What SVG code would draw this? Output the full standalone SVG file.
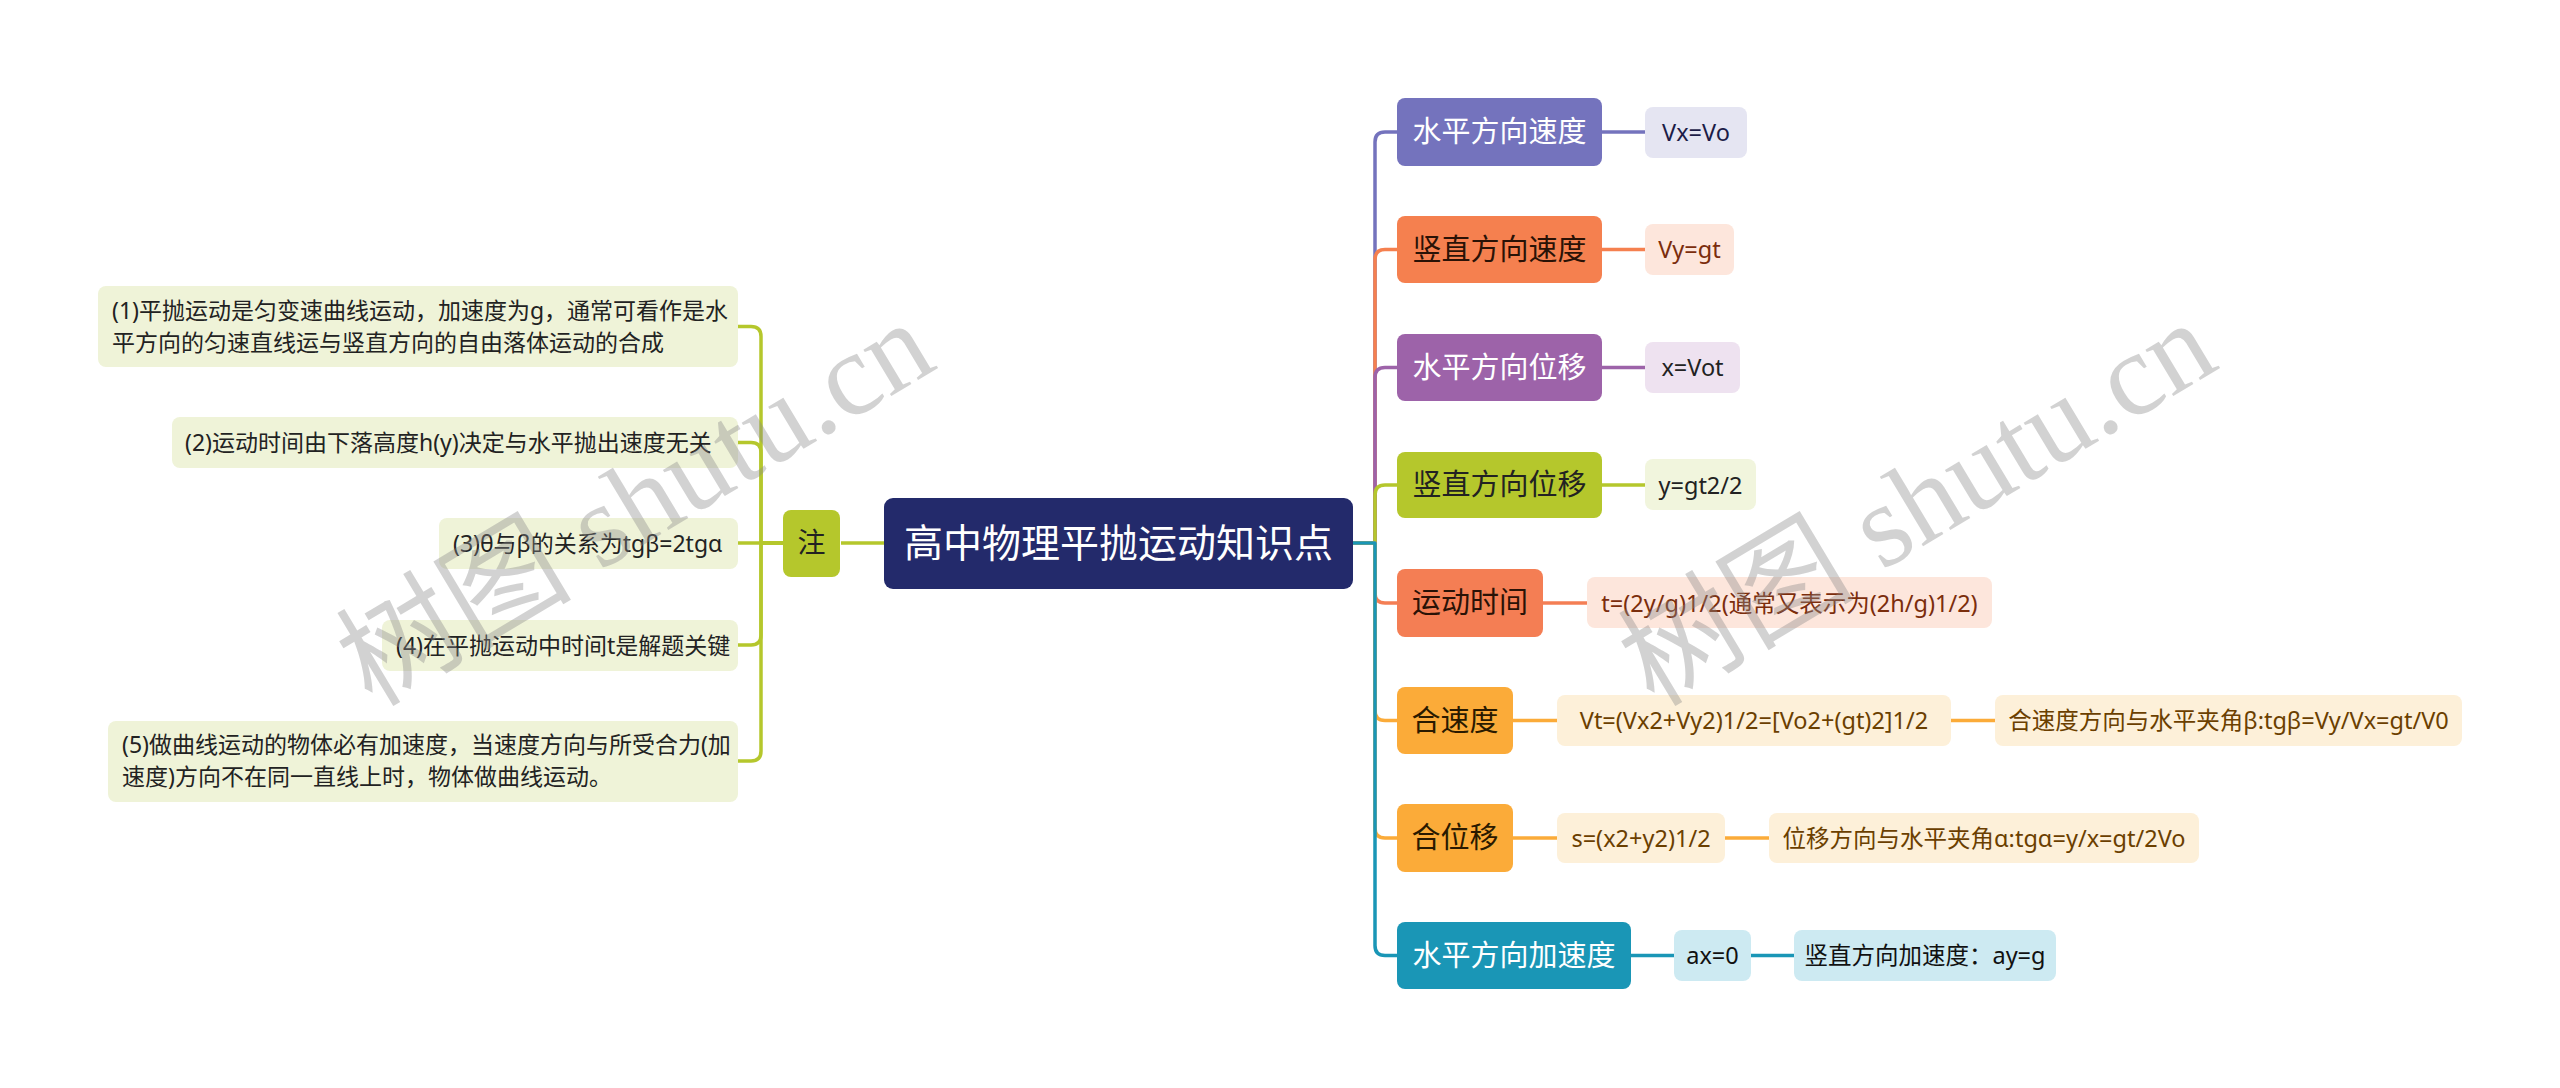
<svg xmlns="http://www.w3.org/2000/svg" width="2560" height="1088" viewBox="0 0 2560 1088">
<style>
text{font-family:"Noto Sans","Noto Sans CJK SC",sans-serif;}
.c{fill:none;stroke-width:3.5;stroke-linejoin:round;stroke-linecap:butt;}
.l1{font-size:29px;text-anchor:middle;}
.l2{font-size:23.5px;text-anchor:middle;}
.nt{font-size:23px;fill:#222;}
.wm{font-family:"Liberation Serif","Noto Sans CJK SC",serif;font-size:118px;fill:#888;fill-opacity:0.38;}
</style>
<rect width="2560" height="1088" fill="#ffffff"/>
<g id="connectors">
<path class="c" stroke="#b5c72c" d="M884,543 H841"/>
<path class="c" stroke="#b5c72c" d="M784,543 H761 V336.5 Q761,326.5 751,326.5 H738"/>
<path class="c" stroke="#b5c72c" d="M784,543 H761 V452.5 Q761,442.5 751,442.5 H738"/>
<path class="c" stroke="#b5c72c" d="M784,543 H738"/>
<path class="c" stroke="#b5c72c" d="M784,543 H761 V635 Q761,645 751,645 H738"/>
<path class="c" stroke="#b5c72c" d="M784,543 H761 V751 Q761,761 751,761 H738"/>
<path class="c" stroke="#7473bd" d="M1353,543 H1375 V142 Q1375,132 1385,132 H1397"/>
<path class="c" stroke="#f5804f" d="M1353,543 H1375 V259.5 Q1375,249.5 1385,249.5 H1397"/>
<path class="c" stroke="#9d63a9" d="M1353,543 H1375 V377.5 Q1375,367.5 1385,367.5 H1397"/>
<path class="c" stroke="#b5c72c" d="M1353,543 H1375 V495 Q1375,485 1385,485 H1397"/>
<path class="c" stroke="#f47e54" d="M1353,543 H1375 V593 Q1375,603 1385,603 H1397"/>
<path class="c" stroke="#fbab39" d="M1353,543 H1375 V710.5 Q1375,720.5 1385,720.5 H1397"/>
<path class="c" stroke="#fbab39" d="M1353,543 H1375 V828 Q1375,838 1385,838 H1397"/>
<path class="c" stroke="#1a96b6" d="M1353,543 H1375 V945.5 Q1375,955.5 1385,955.5 H1397"/>
<path class="c" stroke="#7473bd" d="M1602,132 H1645"/>
<path class="c" stroke="#f5804f" d="M1602,249.5 H1645"/>
<path class="c" stroke="#9d63a9" d="M1602,367.5 H1645"/>
<path class="c" stroke="#b5c72c" d="M1602,485 H1645"/>
<path class="c" stroke="#f47e54" d="M1543,603 H1587"/>
<path class="c" stroke="#fbab39" d="M1513,720.5 H1557"/>
<path class="c" stroke="#fbab39" d="M1951,720.5 H1995"/>
<path class="c" stroke="#fbab39" d="M1513,838 H1557"/>
<path class="c" stroke="#fbab39" d="M1725,838 H1769"/>
<path class="c" stroke="#1a96b6" d="M1631,955.5 H1674"/>
<path class="c" stroke="#1a96b6" d="M1751,955.5 H1794"/>
</g>
<g id="root">
<rect x="884" y="498" width="469" height="91" rx="9" fill="#232a6b"/>
<text x="1118.5" y="557" font-size="39" fill="#ffffff" text-anchor="middle">高中物理平抛运动知识点</text>
</g>
<g id="zhu">
<rect x="783" y="510" width="57" height="67" rx="8" fill="#b5c72c"/>
<text x="811.5" y="553" font-size="28" fill="#222" text-anchor="middle">注</text>
</g>
<g id="note1">
<rect x="98" y="286" width="640" height="81" rx="8" fill="#eff3d8"/>
<text class="nt" x="112" y="318.5">(1)平抛运动是匀变速曲线运动，加速度为g，通常可看作是水</text>
<text class="nt" x="112" y="350.5">平方向的匀速直线运与竖直方向的自由落体运动的合成</text>
</g>
<g id="note2">
<rect x="172" y="417" width="566" height="51" rx="8" fill="#eff3d8"/>
<text class="nt" x="185" y="451">(2)运动时间由下落高度h(y)决定与水平抛出速度无关</text>
</g>
<g id="note3">
<rect x="439" y="518" width="299" height="51" rx="8" fill="#eff3d8"/>
<text class="nt" x="453" y="552">(3)θ与β的关系为tgβ=2tgα</text>
</g>
<g id="note4">
<rect x="382" y="620" width="356" height="51" rx="8" fill="#eff3d8"/>
<text class="nt" x="396" y="654">(4)在平抛运动中时间t是解题关键</text>
</g>
<g id="note5">
<rect x="108" y="721" width="630" height="81" rx="8" fill="#eff3d8"/>
<text class="nt" x="122" y="753">(5)做曲线运动的物体必有加速度，当速度方向与所受合力(加</text>
<text class="nt" x="122" y="785">速度)方向不在同一直线上时，物体做曲线运动。</text>
</g>
<g id="n1">
<rect x="1397" y="98" width="205" height="68" rx="8" fill="#7473bd"/>
<text class="l1" x="1499.5" y="142" fill="#ffffff">水平方向速度</text>
</g>
<g id="n1a">
<rect x="1645" y="107" width="102" height="51" rx="8" fill="#e5e5f2"/>
<text class="l2" x="1696" y="140.5" fill="#1c1c48">Vx=Vo</text>
</g>
<g id="n2">
<rect x="1397" y="216" width="205" height="67" rx="8" fill="#f5804f"/>
<text class="l1" x="1499.5" y="259.5" fill="#2a1206">竖直方向速度</text>
</g>
<g id="n2a">
<rect x="1645" y="224" width="89" height="51" rx="8" fill="#fde6dc"/>
<text class="l2" x="1689.5" y="258" fill="#7b2d0c">Vy=gt</text>
</g>
<g id="n3">
<rect x="1397" y="334" width="205" height="67" rx="8" fill="#9d63a9"/>
<text class="l1" x="1499.5" y="377.5" fill="#ffffff">水平方向位移</text>
</g>
<g id="n3a">
<rect x="1645" y="342" width="95" height="51" rx="8" fill="#eee2f0"/>
<text class="l2" x="1692.5" y="376" fill="#222">x=Vot</text>
</g>
<g id="n4">
<rect x="1397" y="452" width="205" height="66" rx="8" fill="#b5c72c"/>
<text class="l1" x="1499.5" y="495" fill="#222">竖直方向位移</text>
</g>
<g id="n4a">
<rect x="1645" y="459" width="111" height="51" rx="8" fill="#f1f5dd"/>
<text class="l2" x="1700.5" y="493.5" fill="#222">y=gt2/2</text>
</g>
<g id="n5">
<rect x="1397" y="569" width="146" height="68" rx="8" fill="#f47e54"/>
<text class="l1" x="1470" y="613" fill="#2a1206">运动时间</text>
</g>
<g id="n5a">
<rect x="1587" y="577" width="405" height="51" rx="8" fill="#fde6dc"/>
<text class="l2" x="1789.5" y="611.5" fill="#7b2d0c">t=(2y/g)1/2(通常又表示为(2h/g)1/2)</text>
</g>
<g id="n6">
<rect x="1397" y="687" width="116" height="67" rx="8" fill="#fbab39"/>
<text class="l1" x="1455" y="730.5" fill="#2a1a00">合速度</text>
</g>
<g id="n6a">
<rect x="1557" y="695" width="394" height="51" rx="8" fill="#fdf0d9"/>
<text class="l2" x="1754" y="729" fill="#6b3f00">Vt=(Vx2+Vy2)1/2=[Vo2+(gt)2]1/2</text>
</g>
<g id="n6b">
<rect x="1995" y="695" width="467" height="51" rx="8" fill="#fdf0d9"/>
<text class="l2" x="2228.5" y="729" fill="#6b3f00">合速度方向与水平夹角β:tgβ=Vy/Vx=gt/V0</text>
</g>
<g id="n7">
<rect x="1397" y="804" width="116" height="68" rx="8" fill="#fbab39"/>
<text class="l1" x="1455" y="848" fill="#2a1a00">合位移</text>
</g>
<g id="n7a">
<rect x="1557" y="813" width="168" height="50" rx="8" fill="#fdf0d9"/>
<text class="l2" x="1641" y="846.5" fill="#6b3f00">s=(x2+y2)1/2</text>
</g>
<g id="n7b">
<rect x="1769" y="813" width="430" height="50" rx="8" fill="#fdf0d9"/>
<text class="l2" x="1984" y="846.5" fill="#6b3f00">位移方向与水平夹角α:tgα=y/x=gt/2Vo</text>
</g>
<g id="n8">
<rect x="1397" y="922" width="234" height="67" rx="8" fill="#1a96b6"/>
<text class="l1" x="1514" y="965.5" fill="#ffffff">水平方向加速度</text>
</g>
<g id="n8a">
<rect x="1674" y="930" width="77" height="51" rx="8" fill="#cdeaf2"/>
<text class="l2" x="1712.5" y="964" fill="#111">ax=0</text>
</g>
<g id="n8b">
<rect x="1794" y="930" width="262" height="51" rx="8" fill="#cdeaf2"/>
<text class="l2" x="1925" y="964" fill="#111">竖直方向加速度：ay=g</text>
</g>
<g id="watermark">
<text class="wm" x="372" y="708" transform="rotate(-31 372 708)">树图 shutu.cn</text>
<text class="wm" x="1654" y="708" transform="rotate(-31 1654 708)">树图 shutu.cn</text>
</g>
</svg>
